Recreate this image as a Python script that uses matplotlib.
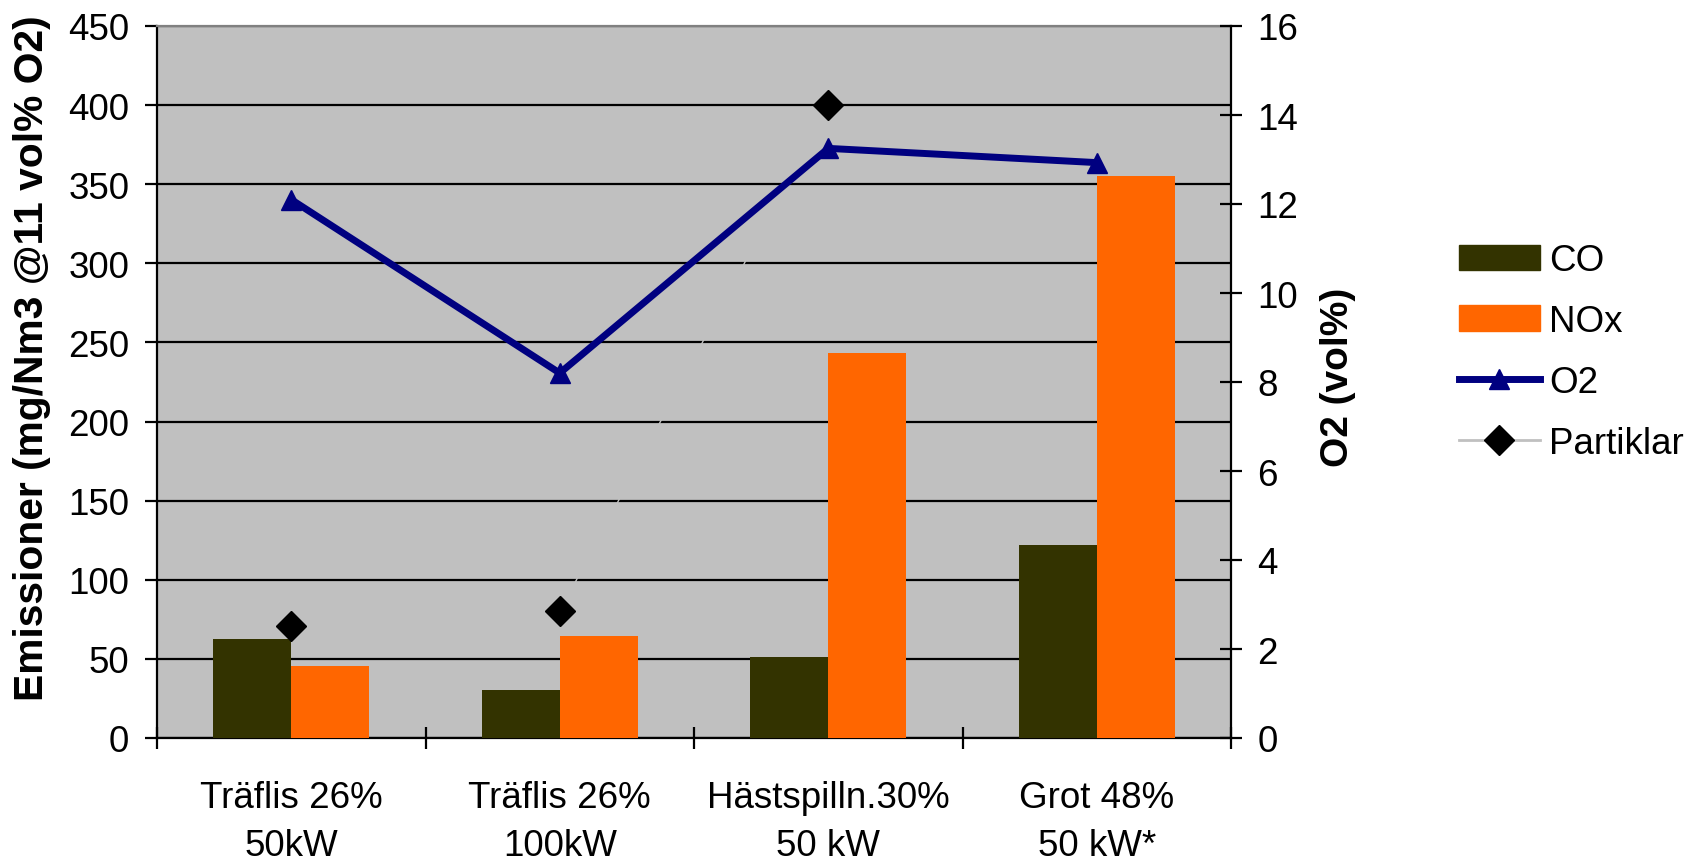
import matplotlib
matplotlib.use("Agg")
import numpy as np
import matplotlib.pyplot as plt
from matplotlib.patches import Patch
from matplotlib.lines import Line2D

plt.rcParams['font.family'] = ['Liberation Sans', 'DejaVu Sans']

kategorier = ["Träflis 26%\n50kW", "Träflis 26%\n100kW", "Hästspilln.30%\n50 kW", "Grot 48%\n50 kW*"]
co = [62.5, 30.5, 51, 122]
nox = [45.5, 64.5, 243.5, 355]
o2 = [12.1, 8.2, 13.25, 12.93]
partiklar = [71, 80, 400, np.nan]

FS = 26.5
LFS = 28
x = np.arange(len(kategorier))
w = 0.29

fig = plt.figure(figsize=(16.9, 8.62), dpi=100)
ax = fig.add_axes([157/1690, 1 - 739/862, (1231-157)/1690, (739-27)/862])
ax.set_facecolor('#c0c0c0')

ax.bar(x - w/2, co, w, color='#333300', zorder=3)
ax.bar(x + w/2, nox, w, color='#ff6600', zorder=3)
ax.plot(x, partiklar, color='#c0c0c0', lw=1, marker='D', ms=15.5,
        mfc='black', mec='black', zorder=4)

ax.set_xlim(-0.5, 3.5)
ax.set_ylim(0, 450)
ax.set_yticks(np.arange(0, 451, 50))
ax.yaxis.grid(True, color='black', lw=1.6, zorder=1)
ax.set_axisbelow(True)

# ticks på kategorigränserna, etiketter i mitten
ax.set_xticks(np.arange(-0.5, 3.6, 1))
ax.set_xticklabels([])
ax.set_xticks(x, minor=True)
ax.set_xticklabels(kategorier, minor=True, fontsize=FS, linespacing=1.5)
ax.tick_params(axis='x', which='major', direction='inout', length=16, width=1.6)
ax.tick_params(axis='x', which='minor', length=0, pad=30)
ax.tick_params(axis='y', direction='out', length=9, width=1.6, labelsize=FS, pad=11)

for s in ['left', 'bottom']:
    ax.spines[s].set_linewidth(1.6)
ax.spines['top'].set_color('#808080')
ax.spines['top'].set_linewidth(1.6)
ax.spines['right'].set_visible(False)

ax2 = ax.twinx()
ax2.plot(x, o2, color='#000080', lw=5, marker='^', ms=14, zorder=5)
ax2.set_ylim(0, 16)
ax2.set_yticks(np.arange(0, 17, 2))
ax2.tick_params(axis='y', direction='inout', length=16, width=1.6, labelsize=FS, pad=11)
ax2.spines['right'].set_linewidth(1.6)
for s in ['top', 'left', 'bottom']:
    ax2.spines[s].set_visible(False)

fig.text(32/1690, 1 - 358/862, "Emissioner (mg/Nm3 @11 vol% O2)", rotation=90,
         ha='center', va='center', fontsize=29.3, fontweight='bold')
fig.text(1338/1690, 1 - 377/862, "O2 (vol%)", rotation=90,
         ha='center', va='center', fontsize=LFS, fontweight='bold')

handles = [
    Patch(color='#333300'),
    Patch(color='#ff6600'),
    Line2D([], [], color='#000080', lw=5, marker='^', ms=14),
    Line2D([], [], color='#c0c0c0', lw=2, marker='D', ms=15.5, mfc='black', mec='black'),
]
fig.legend(handles, ["CO", "NOx", "O2", "Partiklar"], loc='center left',
           bbox_to_anchor=(1459/1690, 1 - 353/862), frameon=False, fontsize=FS,
           handlelength=2.2, handleheight=0.7, handletextpad=0.25,
           labelspacing=0.7, borderpad=0, borderaxespad=0)

fig.savefig("out.png", dpi=100)
